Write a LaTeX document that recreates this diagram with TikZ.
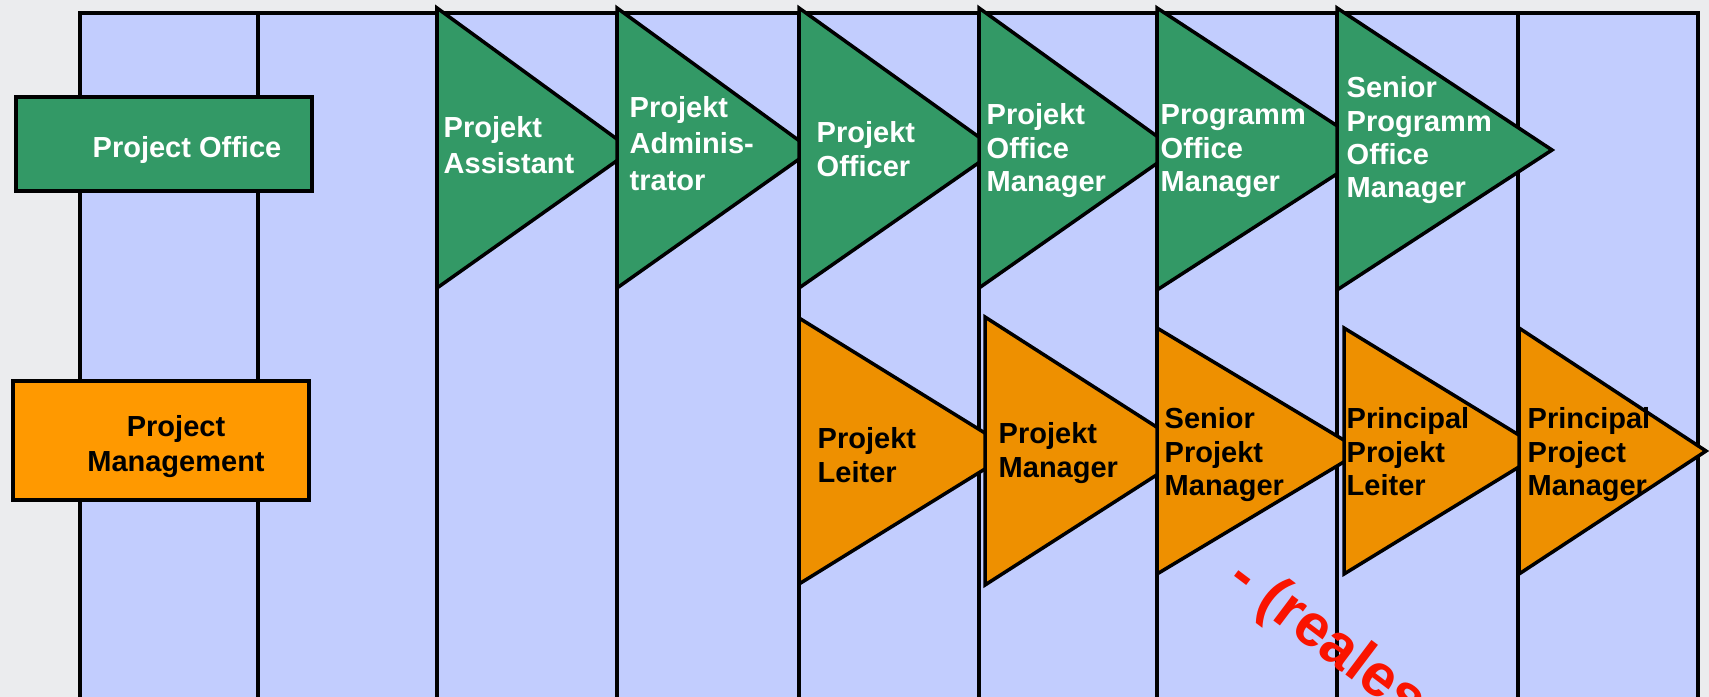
\documentclass[tikz,border=0pt]{standalone}
\usepackage{fontspec}
\setmainfont{Liberation Sans}
\definecolor{bgcolor}{RGB}{235,236,238}
\definecolor{lanecolor}{RGB}{194,205,254}
\definecolor{officegreen}{RGB}{51,153,102}
\definecolor{mgmtorange}{RGB}{255,153,0}
\definecolor{steporange}{RGB}{238,144,0}
\definecolor{stampred}{RGB}{250,20,0}

\begin{document}
\begin{tikzpicture}[x=0.01cm, y=-0.01cm,
    outline/.style={draw=black, line width=1pt},
    rolename/.style={inner sep=0pt, anchor=north west, align=left,
      font=\bfseries\fontsize{8.25pt}{9.5pt}\selectfont},
    widename/.style={rolename, font=\bfseries\fontsize{8.25pt}{10.3pt}\selectfont},
    boxname/.style={inner sep=0pt, align=center,
      font=\bfseries\fontsize{8.25pt}{9.8pt}\selectfont}]
    \clip (0,0) rectangle (1709,697);
    \fill[bgcolor] (0,0) rectangle (1709,697);

    % lanes
    \fill[lanecolor] (80,13) rectangle (1698,720);
    \draw[outline] (80,720) -- (80,13) -- (1698,13) -- (1698,720);
    \draw[outline] (258,13) -- (258,720) (437,13) -- (437,720) (617,13) -- (617,720)
        (799,13) -- (799,720) (979,13) -- (979,720) (1157,13) -- (1157,720)
        (1337,13) -- (1337,720) (1518,13) -- (1518,720);

    % left boxes
    \draw[outline, fill=officegreen] (16,97) rectangle (312,191);
    \node[boxname, text=white, anchor=base] (office) at (187,157) {Project Office};
    \draw[outline, fill=mgmtorange] (13,381) rectangle (309,500);
    \node[boxname, anchor=north] (mgmt) at (176,415) {Project\\Management};

    % office career steps
    \filldraw[outline, fill=officegreen] (437,8) -- (632,150) -- (437,288) -- cycle;
    \filldraw[outline, fill=officegreen] (617,8) -- (812,150) -- (617,288) -- cycle;
    \filldraw[outline, fill=officegreen] (799,8) -- (997,150) -- (799,288) -- cycle;
    \filldraw[outline, fill=officegreen] (979,8) -- (1176,150) -- (979,288) -- cycle;
    \filldraw[outline, fill=officegreen] (1157,8) -- (1374,150) -- (1157,290) -- cycle;
    \filldraw[outline, fill=officegreen] (1337,8) -- (1552,150) -- (1337,290) -- cycle;
    \node[widename, text=white] (assistant) at (443,116) {Projekt\\Assistant};
    \node[widename, text=white] (admin) at (629,96) {Projekt\\Adminis-\\trator};
    \node[rolename, text=white] (officer) at (816,121) {Projekt\\Officer};
    \node[rolename, text=white] (pomanager) at (986,103) {Projekt\\Office\\Manager};
    \node[rolename, text=white] (prgmanager) at (1160,104) {Programm\\Office\\Manager};
    \node[rolename, text=white] (seniorprg) at (1346,76) {Senior\\Programm\\Office\\Manager};

    % management career steps
    \filldraw[outline, fill=steporange] (799,318) -- (1014,451) -- (799,584) -- cycle;
    \filldraw[outline, fill=steporange] (985,317) -- (1194,451) -- (985,585) -- cycle;
    \filldraw[outline, fill=steporange] (1157,328) -- (1362,451) -- (1157,574) -- cycle;
    \filldraw[outline, fill=steporange] (1344,328) -- (1545,451) -- (1344,574) -- cycle;
    \filldraw[outline, fill=steporange] (1519,328) -- (1706,451) -- (1519,574) -- cycle;
    \node[rolename] (leiter) at (817,427) {Projekt\\Leiter};
    \node[rolename] (pmanager) at (998,422) {Projekt\\Manager};
    \node[rolename] (seniorpm) at (1164,407) {Senior\\Projekt\\Manager};
    \node[rolename] (principalleiter) at (1346,407) {Principal\\Projekt\\Leiter};
    \node[rolename] (principalpm) at (1527,407) {Principal\\Project\\Manager};

    \node[inner sep=0pt, anchor=base west, rotate=-37, text=stampred,
        font=\bfseries\fontsize{17pt}{20pt}\selectfont] (stamp) at (1225,584) {- (reales};
\end{tikzpicture}
\end{document}
